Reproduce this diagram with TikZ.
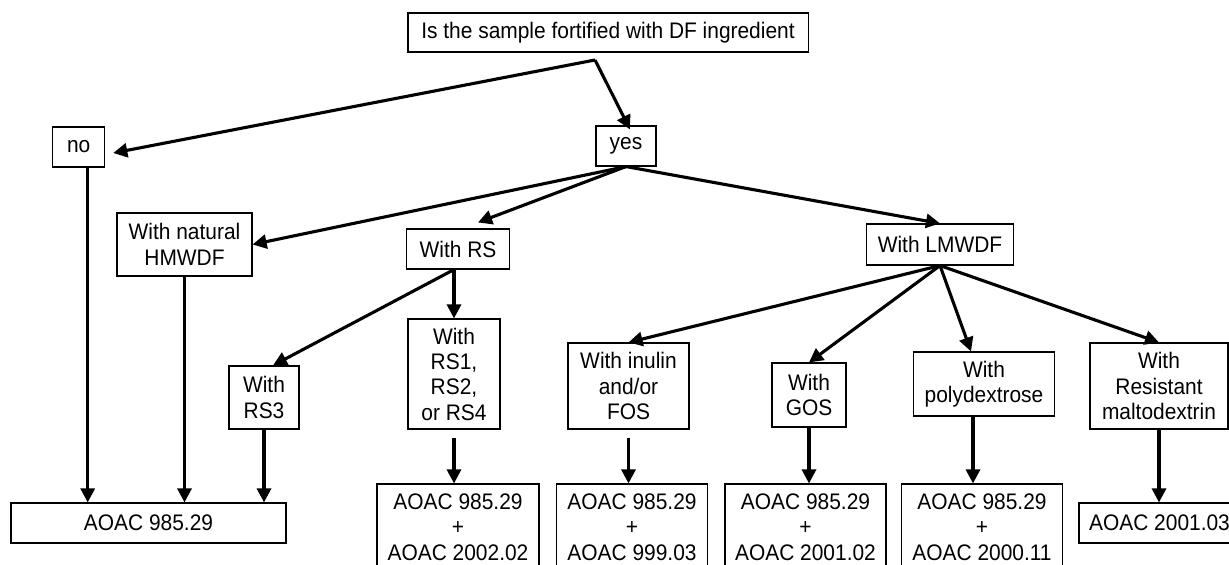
\documentclass[tikz,border=0pt]{standalone}
\usepackage{fontspec}
\setmainfont{Liberation Sans}[FakeStretch=0.93]
\usetikzlibrary{arrows.meta,calc}

\begin{document}
\begin{tikzpicture}[
      x=0.025cm, y=-0.025cm,
      >={Triangle[length=10pt,width=10pt]},
      every node/.style={font=\fontsize{16}{18}\selectfont},
      choice/.style={draw, line width=0.8pt, inner sep=0pt, align=center},
      link/.style={->, line width=2.2pt}
  ]
      \clip (0,0) rectangle (1229,565);
      \useasboundingbox (0,0) rectangle (1229,565);

      % Question and answers
      \node[choice, minimum width=10cm, minimum height=0.975cm] (quest) at (608,32.5)
            {Is the sample fortified with DF ingredient};
      \node[choice, minimum width=1.3cm, minimum height=1cm] (no)  at (78.7,147) {no};
      \node[choice, minimum width=1.5cm, minimum height=1cm] (yes) at (626,146)  {yes};

      % Kind of fibre added
      \node[choice, minimum width=3.375cm, minimum height=1.575cm] (hmwdf) at (184.5,244.5) {With natural\\HMWDF};
      \node[choice, minimum width=2.575cm, minimum height=1cm]     (rs)    at (458,249)     {With RS};
      \node[choice, minimum width=3.675cm, minimum height=1.025cm] (lmwdf) at (940,244.5)   {With LMWDF};
      \node[choice, minimum width=1.75cm,  minimum height=1.575cm] (rs3)    at (264,397.5) {With\\RS3};
      \node[choice, minimum width=2.3cm,   minimum height=2.75cm]  (rsx)    at (454,374)   {With\\RS1,\\RS2,\\or RS4};
      \node[choice, minimum width=3.025cm, minimum height=2.15cm]  (inulin) at (628.5,386) {With inulin\\and/or\\FOS};
      \node[choice, minimum width=1.85cm,  minimum height=1.6cm]   (gos)    at (809,395)   {With\\GOS};
      \node[choice, minimum width=3.525cm, minimum height=1.6cm]   (poly)   at (984,384)   {With\\polydextrose};
      \node[choice, minimum width=3.45cm,  minimum height=2.15cm]  (malt)   at (1159,386)  {With\\Resistant\\maltodextrin};

      % Methods
      \node[choice, minimum width=6.875cm, minimum height=1cm]   (m1) at (148.5,523)  {AOAC 985.29};
      \node[choice, minimum width=4.05cm,  minimum height=2.15cm] (m2) at (458,527)    {AOAC 985.29\\+\\AOAC 2002.02};
      \node[choice, minimum width=3.76cm,  minimum height=2.15cm] (m3) at (632,527)    {AOAC 985.29\\+\\AOAC 999.03};
      \node[choice, minimum width=4.025cm, minimum height=2.15cm] (m4) at (805.5,527)  {AOAC 985.29\\+\\AOAC 2001.02};
      \node[choice, minimum width=4.04cm,  minimum height=2.15cm] (m5) at (982,527)    {AOAC 985.29\\+\\AOAC 2000.11};
      \node[choice, minimum width=4.025cm, minimum height=1cm]   (m6) at (1159.5,523) {AOAC 2001.03};

      % First split
      \coordinate (split) at (595,60);
      \draw[link] (split) -- ([xshift=0.2cm,yshift=-0.15cm]no.east);
      \draw[link] (split) -- ([xshift=0.1cm,yshift=-0.1cm]yes.north);

      % Fibre types
      \draw[link] (yes.south) -- (hmwdf.east);
      \draw[link] (yes.south) -- ([xshift=0.5cm,yshift=0.15cm]rs.north);
      \draw[link] (yes.south) -- (lmwdf.north);

      \coordinate (rsfork) at (rsx.north |- rs.south);
      \draw[link] (rsfork) -- (rsx.north);
      \draw[link] (rsfork) -- ([xshift=0.225cm]rs3.north);

      \draw[link] (lmwdf.south) -- (inulin.north);
      \draw[link] (lmwdf.south) -- (gos.north);
      \draw[link] (lmwdf.south) -- ([xshift=-0.325cm]poly.north);
      \draw[link] (lmwdf.south) -- (malt.north);

      % Down to the methods
      \coordinate (nofoot) at ([xshift=0.225cm]no.south);
      \draw[link] (nofoot) -- (nofoot |- m1.north);
      \draw[link] (hmwdf.south) -- (hmwdf.south |- m1.north);
      \draw[link] (rs3.south) -- (rs3.south |- m1.north);
      \draw[link, shorten <=0.2cm] (rsx.south) -- (rsx.south |- m2.north);
      \draw[link, shorten <=0.2cm] (inulin.south) -- (inulin.south |- m3.north);
      \draw[link] (gos.south) -- (gos.south |- m4.north);
      \coordinate (polyfoot) at ([xshift=-0.275cm]poly.south);
      \draw[link] (polyfoot) -- (polyfoot |- m5.north);
      \draw[link] (malt.south) -- (malt.south |- m6.north);
  \end{tikzpicture}
\end{document}
